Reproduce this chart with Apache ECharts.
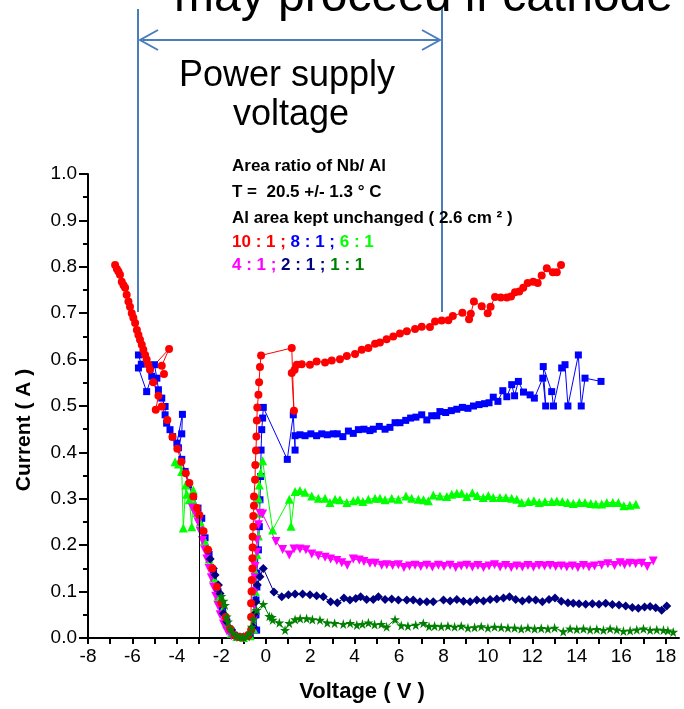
<!DOCTYPE html>
<html>
<head>
<meta charset="utf-8">
<script src="https://cdn.jsdelivr.net/npm/echarts@6/dist/echarts.min.js"></script>
<style>
  html, body { margin: 0; padding: 0; background: #fff; }
  #chart { width: 684px; height: 709px; }
</style>
</head>
<body>
<div id="chart"></div>
<script>
    'use strict';

    // axis ticks and labels
    var xTicks = [-8,-7,-6,-5,-4,-3,-2,-1,0,1,2,3,4,5,6,7,8,9,10,11,12,13,14,15,16,17,18];
    var xLabels = [-8,-6,-4,-2,0,2,4,6,8,10,12,14,16,18];

    // 10 : 1  (red circles)
    var ratio10 = [[-6.78,.804],[-6.7,.795],[-6.63,.79],[-6.56,.783],[-6.48,.768],[-6.4,.76],[-6.33,.755],[-6.26,.74],[-6.18,.725],
        [-6.11,.714],[-6.03,.70],[-5.96,.69],[-5.88,.679],[-5.8,.664],[-5.73,.653],[-5.66,.643],[-5.58,.632],[-5.51,.621],[-5.43,.61],
        [-5.36,.60],[-5.28,.589],[-5.21,.578],[-4.35,.623],[-4.68,.587],[-4.58,.569],[-5.06,.551],[-4.83,.522],[-4.95,.492],[-4.68,.499],
        [-4.43,.47],[-4.2,.433],[-3.98,.408],[-3.8,.38],[-3.6,.355],[-3.44,.334],[-3.26,.305],[-3.1,.28],[-2.99,.265],[-2.8,.23],
        [-2.6,.19],[-2.4,.15],[-2.2,.11],[-2.0,.075],[-1.8,.045],[-1.6,.02],[-1.4,.006],[-1.2,.002],[-1.0,.002],[-0.8,.005],[-0.66,.017],
        [-0.66,.045],[-0.66,.075],[-0.64,.1],[-0.63,.125],[-0.6,.15],[-0.6,.172],[-0.59,.195],[-0.59,.218],[-0.56,.24],[-0.56,.263],
        [-0.53,.285],[-0.53,.305],[-0.48,.341],[-0.47,.373],[-0.44,.404],[-0.42,.434],[-0.4,.469],[-0.38,.497],[-0.33,.524],[-0.3,.551],
        [-0.26,.584],[-0.21,.609],[1.17,.625],[1.27,.49],[1.17,.571],[1.3,.578],[1.4,.589],[1.62,.59],[1.99,.589],[2.29,.596],[2.67,.594],
        [2.97,.598],[3.34,.601],[3.65,.608],[4.02,.612],[4.32,.621],[4.62,.625],[4.92,.634],[5.14,.637],[5.44,.644],[5.74,.65],[6.04,.656],
        [6.35,.661],[6.72,.666],[7.02,.671],[7.39,.67],[7.62,.682],[7.92,.684],[8.22,.685],[8.42,.694],[8.85,.701],[9.15,.687],[9.23,.699],
        [9.37,.725],[9.72,.715],[9.99,.70],[10.12,.714],[10.32,.735],[10.58,.734],[10.85,.734],[11.04,.736],[11.22,.745],[11.41,.747],
        [11.59,.755],[11.79,.765],[12.04,.768],[12.24,.765],[12.42,.781],[12.65,.797],[12.92,.788],[13.1,.788],[13.29,.804]];

    // 8 : 1  (blue squares)
    var ratio8 = [[-5.73,.61],[-5.6,.59],[-5.73,.582],[-5.36,.531],[-5.13,.564],[-5.01,.589],[-4.9,.56],[-4.83,.535],[-4.68,.517],
        [-4.53,.499],[-4.53,.481],[-4.46,.463],[-4.31,.449],[-4.19,.434],[-4.0,.42],[-3.75,.482],[-3.78,.44],[-3.93,.41],[-3.78,.385],
        [-3.63,.359],[-3.48,.33],[-3.26,.305],[-3.05,.28],[-2.88,.258],[-2.73,.216],[-2.55,.18],[-2.35,.14],[-2.15,.1],[-1.95,.065],
        [-1.75,.035],[-1.55,.012],[-1.3,.003],[-1.0,.001],[-0.7,.004],[-0.41,.017],[-0.44,.05],[-0.44,.082],[-0.4,.11],[-0.4,.14],
        [-0.33,.19],[-0.29,.24],[-0.26,.298],[-0.23,.348],[-0.21,.405],[-0.18,.449],[-0.14,.474],[-0.11,.497],[0.97,.385],[1.24,.481],
        [1.32,.405],[1.32,.436],[1.54,.438],[1.77,.436],[2.03,.44],[2.29,.436],[2.52,.44],[2.77,.438],[3.04,.44],[3.22,.44],[3.47,.434],
        [3.72,.446],[3.94,.441],[4.17,.449],[4.42,.45],[4.69,.447],[4.84,.45],[5.11,.456],[5.37,.45],[5.59,.454],[5.82,.464],[6.04,.464],
        [6.3,.469],[6.52,.474],[6.76,.476],[7.02,.481],[7.25,.47],[7.47,.479],[7.7,.479],[7.84,.488],[8.1,.486],[8.35,.49],[8.6,.493],
        [8.85,.497],[9.1,.495],[9.35,.50],[9.6,.503],[9.85,.505],[10.05,.507],[10.24,.519],[10.45,.51],[10.67,.533],[10.85,.52],
        [11.07,.546],[11.2,.522],[11.37,.553],[11.6,.53],[11.9,.524],[12.09,.517],[12.47,.56],[12.6,.50],[12.49,.585],[12.87,.531],
        [12.95,.50],[13.32,.582],[13.47,.589],[13.6,.50],[14.07,.61],[14.2,.50],[14.37,.56],[15.09,.553]];

    // 6 : 1  (green triangles)
    var ratio6 = [[-4.08,.38],[-3.93,.375],[-3.78,.359],[-3.71,.237],[-3.6,.33],[-3.55,.31],[-3.44,.298],[-3.33,.24],[-3.26,.319],
        [-3.2,.29],[-3.1,.27],[-2.95,.25],[-2.75,.21],[-2.55,.17],[-2.35,.13],[-2.15,.09],[-1.95,.06],[-1.75,.03],[-1.55,.01],[-1.3,.003],
        [-1.0,.001],[-0.7,.005],[-0.55,.02],[-0.5,.06],[-0.47,.1],[-0.44,.14],[-0.4,.18],[-0.33,.22],[-0.26,.269],[-0.33,.301],[-0.29,.33],
        [-0.23,.356],[-0.14,.382],[0.31,.233],[1.06,.299],[1.14,.241],[1.32,.316],[1.54,.318],[1.77,.314],[2.07,.306],[2.37,.301],
        [2.67,.301],[2.89,.292],[3.12,.299],[3.34,.298],[3.65,.292],[3.94,.296],[4.15,.298],[4.37,.294],[4.62,.299],[4.92,.301],[5.14,.301],
        [5.37,.298],[5.67,.301],[5.97,.299],[6.31,.306],[6.57,.301],[6.87,.299],[7.1,.298],[7.32,.296],[7.54,.308],[7.84,.306],[8.15,.305],
        [8.37,.31],[8.6,.312],[8.82,.312],[9.05,.305],[9.3,.313],[9.52,.307],[9.79,.303],[10.02,.307],[10.24,.303],[10.54,.303],[10.81,.303],
        [11.07,.301],[11.3,.299],[11.52,.292],[11.82,.294],[12.07,.296],[12.31,.292],[12.57,.294],[12.87,.294],[13.1,.295],[13.35,.294],
        [13.59,.292],[13.84,.29],[14.11,.292],[14.37,.292],[14.63,.29],[14.86,.289],[15.12,.289],[15.35,.292],[15.62,.292],[15.87,.292],
        [16.12,.285],[16.39,.286],[16.66,.288]];

    // 4 : 1  (magenta down triangles)
    var ratio4 = [[-3.3,.28],[-3.18,.269],[-3.05,.25],[-2.95,.23],[-2.85,.21],[-2.75,.19],[-2.65,.17],[-2.55,.15],[-2.45,.13],[-2.35,.11],
        [-2.25,.09],[-2.15,.07],[-2.05,.05],[-1.9,.03],[-1.75,.015],[-1.55,.005],[-1.3,.001],[-1.0,0],[-0.75,.003],[-0.6,.015],[-0.55,.04],
        [-0.52,.07],[-0.5,.1],[-0.48,.13],[-0.48,.154],[-0.4,.185],[-0.4,.211],[-0.33,.244],[-0.26,.269],[-0.14,.267],[0.46,.208],[0.76,.191],
        [1.06,.179],[1.27,.192],[1.54,.192],[1.81,.19],[2.07,.181],[2.37,.177],[2.67,.174],[2.92,.17],[3.2,.167],[3.42,.162],[3.67,.157],
        [3.94,.17],[4.21,.168],[4.42,.165],[4.69,.161],[4.92,.161],[5.22,.157],[5.45,.158],[5.71,.156],[5.97,.158],[6.22,.152],[6.47,.155],
        [6.72,.157],[6.98,.154],[7.25,.157],[7.5,.153],[7.77,.157],[8.02,.154],[8.3,.157],[8.55,.152],[8.8,.155],[9.05,.157],[9.3,.153],
        [9.55,.156],[9.8,.152],[10.05,.155],[10.3,.158],[10.55,.153],[10.8,.156],[11.05,.152],[11.3,.155],[11.55,.153],[11.8,.156],
        [12.05,.153],[12.3,.156],[12.55,.155],[12.8,.156],[13.05,.154],[13.3,.155],[13.55,.153],[13.8,.155],[14.05,.152],[14.3,.156],
        [14.55,.153],[14.8,.155],[15.12,.157],[15.4,.16],[15.7,.156],[15.95,.162],[16.15,.158],[16.39,.161],[16.65,.16],[16.92,.161],
        [17.17,.154],[17.44,.166]];

    // 2 : 1  (navy diamonds)
    var ratio2 = [[-2.6,.19],[-2.5,.17],[-2.36,.15],[-2.28,.136],[-2.13,.114],[-2.06,.096],[-1.98,.075],[-1.91,.053],[-1.76,.035],
        [-1.53,.017],[-1.3,.005],[-1.0,.002],[-0.75,.005],[-0.56,.024],[-0.48,.053],[-0.44,.078],[-0.38,.114],[-0.26,.132],[-0.11,.15],
        [0.37,.099],[0.72,.089],[1.02,.093],[1.32,.095],[1.66,.095],[1.99,.093],[2.29,.091],[2.59,.089],[2.92,.078],[3.22,.076],[3.52,.086],
        [3.79,.082],[4.05,.085],[4.27,.089],[4.54,.083],[4.84,.083],[5.07,.089],[5.37,.083],[5.67,.084],[5.97,.082],[6.35,.082],[6.64,.082],
        [6.94,.078],[7.25,.078],[7.54,.078],[8.0,.082],[8.3,.08],[8.6,.083],[8.9,.079],[9.2,.078],[9.5,.082],[9.8,.08],[10.1,.083],
        [10.4,.084],[10.7,.086],[10.97,.089],[11.25,.083],[11.55,.08],[11.85,.083],[12.15,.082],[12.45,.078],[12.75,.083],[13.02,.086],
        [13.3,.079],[13.6,.076],[13.84,.075],[14.1,.074],[14.4,.073],[14.7,.074],[15.0,.073],[15.3,.075],[15.6,.072],[15.9,.071],
        [16.2,.069],[16.5,.066],[16.77,.064],[17.05,.067],[17.3,.068],[17.55,.065],[17.82,.06],[18.05,.069]];

    // 1 : 1  (dark green stars)
    var ratio1 = [[-2.0,.09],[-1.9,.08],[-1.83,.071],[-1.76,.046],[-1.7,.035],[-1.6,.02],[-1.46,.01],[-1.3,.004],[-1.16,.003],[-1.0,.002],
        [-0.85,.004],[-0.7,.012],[-0.63,.024],[-0.55,.04],[-0.41,.06],[-0.11,.073],[0.16,.047],[0.27,.045],[0.31,.039],[0.61,.033],
        [0.87,.017],[1.06,.032],[1.32,.04],[1.55,.042],[1.84,.042],[2.1,.04],[2.44,.039],[2.77,.033],[3.1,.032],[3.49,.030],[3.8,.032],
        [4.1,.028],[4.35,.03],[4.62,.033],[4.9,.029],[5.2,.03],[5.44,.024],[5.82,.04],[6.1,.027],[6.4,.026],[6.75,.028],[7.09,.032],
        [7.35,.025],[7.6,.026],[7.9,.025],[8.2,.026],[8.5,.024],[8.8,.026],[9.1,.022],[9.4,.023],[9.7,.025],[10.0,.022],[10.3,.024],
        [10.6,.023],[10.9,.022],[11.2,.022],[11.5,.02],[11.8,.022],[12.1,.02],[12.4,.021],[12.7,.02],[13.0,.022],[13.39,.014],[13.7,.02],
        [14.0,.019],[14.3,.02],[14.6,.018],[14.9,.019],[15.2,.017],[15.5,.02],[15.8,.018],[16.1,.015],[16.4,.016],[16.7,.018],[17.0,.02],
        [17.3,.017],[17.6,.018],[17.9,.017],[18.1,.016],[18.34,.013]];

    // drop line at V = -3
    var dropLine = [[-3, 0], [-3, 0.265]];

    var FONT = '"Liberation Sans", Arial, sans-serif';
    var STAR = 'path://M50,0 L61,35 L98,35 L68,57 L79,91 L50,70 L21,91 L32,57 L2,35 L39,35 Z';
    var ARROW = '#4a7ebb';

    function scatterLine(name, data, color, symbol, size, rotate) {
        return {
            name: name,
            type: 'line',
            data: data,
            symbol: symbol,
            symbolSize: size,
            symbolRotate: rotate || 0,
            showAllSymbol: true,
            lineStyle: { color: color, width: 1 },
            itemStyle: { color: color },
            emphasis: { disabled: true }
        };
    }

    var series = [
        scatterLine('8 : 1', ratio8, '#0000ff', 'rect', 7),
        scatterLine('6 : 1', ratio6, '#00ff00', 'triangle', 9),
        scatterLine('4 : 1', ratio4, '#ff00ff', 'triangle', 9, 180),
        scatterLine('2 : 1', ratio2, '#000080', 'diamond', 9),
        scatterLine('10 : 1', ratio10, '#ff0000', 'circle', 8),
        scatterLine('1 : 1', ratio1, '#008000', STAR, 10)
    ];
    series[4].markLine = {
        silent: true,
        symbol: 'none',
        label: { show: false },
        lineStyle: { color: '#000', width: 1, type: 'solid' },
        data: [[{ coord: dropLine[0] }, { coord: dropLine[1] }]]
    };

    function txt(x, y, text, size, opts) {
        opts = opts || {};
        return {
            type: 'text', x: x, y: y, rotation: opts.rotation || 0,
            style: {
                text: text,
                fill: opts.fill || '#000',
                font: (opts.bold ? 'bold ' : '') + size + 'px ' + FONT,
                align: opts.align || 'left',
                verticalAlign: 'middle',
                rich: opts.rich
            }
        };
    }

    function rs(color) {
        return { fill: color, fontSize: 17, fontWeight: 'bold', fontFamily: FONT };
    }

    var graphics = [
        // heading cut by the top edge
        txt(174, -2, 'may proceed if cathode', 48),
        // power supply arrow
        { type: 'line', shape: { x1: 138, y1: 9, x2: 138, y2: 312 }, style: { stroke: ARROW, lineWidth: 2 } },
        { type: 'line', shape: { x1: 442, y1: 9, x2: 442, y2: 312 }, style: { stroke: ARROW, lineWidth: 2 } },
        { type: 'line', shape: { x1: 140, y1: 40, x2: 440, y2: 40 }, style: { stroke: ARROW, lineWidth: 2 } },
        { type: 'polyline', shape: { points: [[158, 30], [140, 40], [158, 50]] }, style: { stroke: ARROW, lineWidth: 2, fill: null } },
        { type: 'polyline', shape: { points: [[422, 30], [440, 40], [422, 50]] }, style: { stroke: ARROW, lineWidth: 2, fill: null } },
        txt(287, 76, 'Power supply', 36, { align: 'center' }),
        txt(291, 115, 'voltage', 36, { align: 'center' }),
        // notes
        txt(232, 166, 'Area ratio of Nb/ Al', 17, { bold: true }),
        txt(232, 192, 'T =  20.5 +/- 1.3 \u00b0 C', 17, { bold: true }),
        txt(232, 218, 'Al area kept unchanged ( 2.6 cm \u00b2 )', 17, { bold: true }),
        txt(232, 242, '{r|10 : 1 ;} {b|8 : 1 ;} {g|6 : 1}', 17, { bold: true,
            rich: { r: rs('#ff0000'), b: rs('#0000ff'), g: rs('#00ff00') } }),
        txt(232, 265, '{m|4 : 1 ;} {n|2 : 1 ;} {d|1 : 1}', 17, { bold: true,
            rich: { m: rs('#ff00ff'), n: rs('#000080'), d: rs('#008000') } }),
        // axis titles
        txt(362, 692, 'Voltage ( V )', 22, { bold: true, align: 'center' }),
        txt(24, 430, 'Current ( A )', 21, { bold: true, align: 'center', rotation: Math.PI / 2 })
    ];

    var chart = echarts.init(document.getElementById('chart'), null, { renderer: 'canvas' });
    chart.setOption({
        animation: false,
        backgroundColor: '#fff',
        grid: { left: 88, right: 5, top: 174, bottom: 71, containLabel: false },
        xAxis: {
            type: 'value',
            min: -8,
            max: 18.6,
            interval: 2,
            axisLine: { onZero: false, lineStyle: { color: '#000', width: 2 } },
            axisTick: { length: 6, lineStyle: { color: '#000', width: 2 }, customValues: xTicks },
            axisLabel: { color: '#000', fontSize: 19, fontFamily: FONT, margin: 9, customValues: xLabels },
            splitLine: { show: false }
        },
        yAxis: {
            type: 'value',
            min: 0,
            max: 1,
            interval: 0.1,
            axisLine: { show: true, onZero: false, lineStyle: { color: '#000', width: 2 } },
            axisTick: { show: true, length: 9, lineStyle: { color: '#000', width: 2 } },
            minorTick: { show: true, splitNumber: 2, length: 5, lineStyle: { color: '#000', width: 2 } },
            axisLabel: { color: '#000', fontSize: 19, fontFamily: FONT, margin: 11,
                formatter: function (v) { return v.toFixed(1); } },
            splitLine: { show: false }
        },
        graphic: graphics,
        series: series
    });
</script>
</body>
</html>
